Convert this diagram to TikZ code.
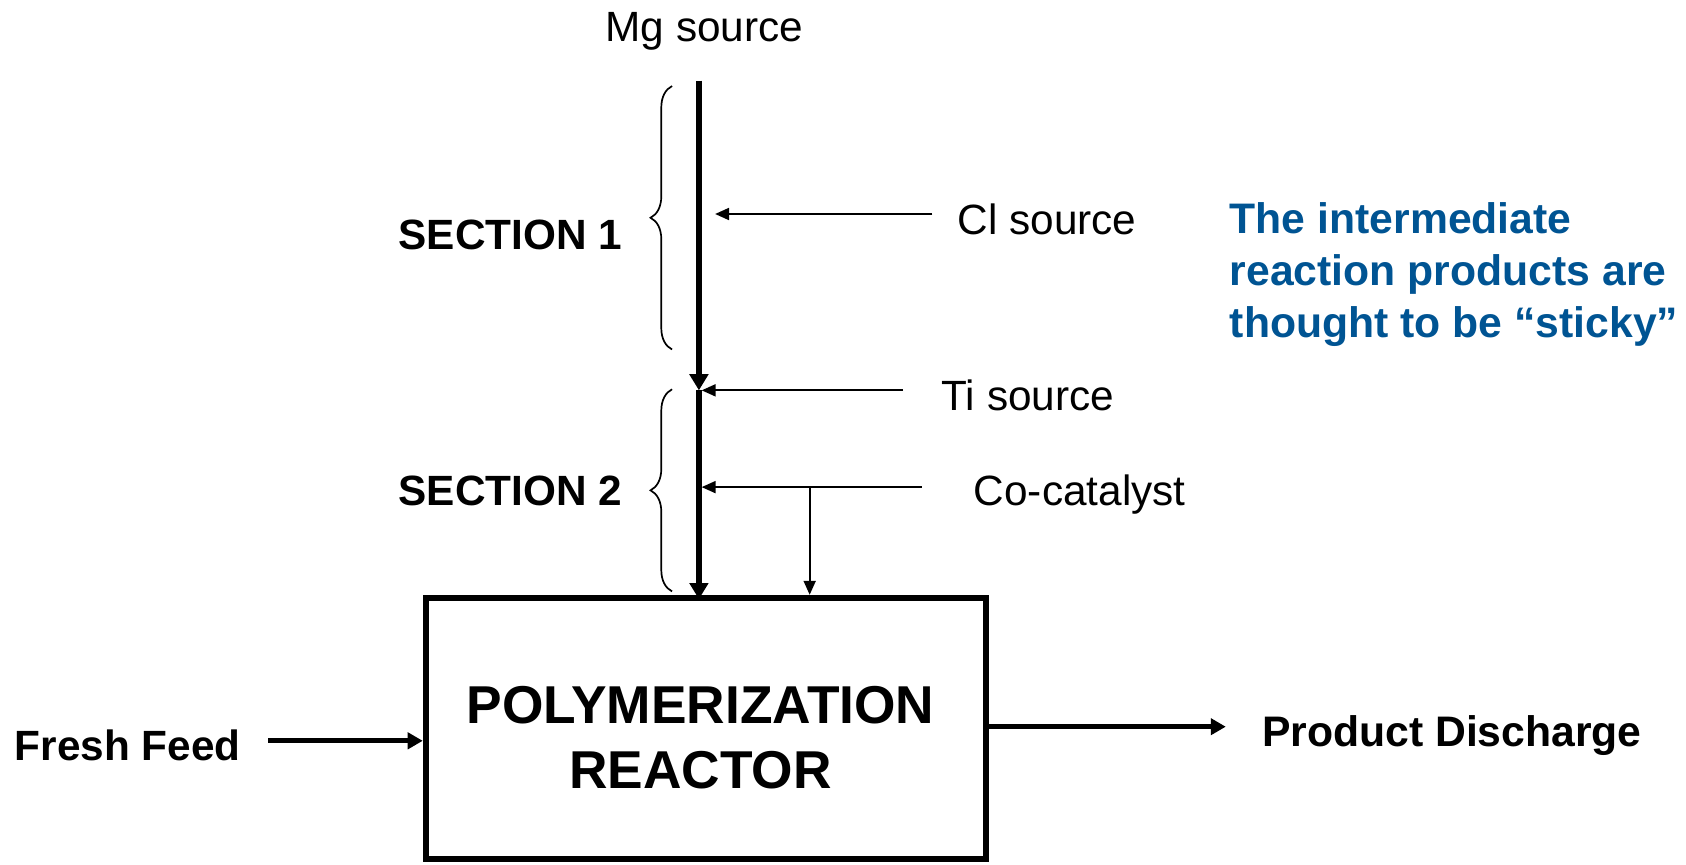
\documentclass[tikz,border=0pt]{standalone}
\usepackage{fontspec}
\setmainfont{Liberation Sans}
\setsansfont{Liberation Sans}
\RequirePackage{xcolor}
\definecolor{stickyblue}{RGB}{0,84,147}
\tikzset{every picture/.style={/utils/exec={\sffamily}}}
\usetikzlibrary{calc}
\usetikzlibrary{positioning}
\usetikzlibrary{arrows.meta,decorations.pathreplacing}
\tikzset{
  feedtext/.style={font=\fontsize{11.2}{13.7}\selectfont, inner sep=0pt},
  sectiontext/.style={font=\fontsize{11.2}{13.7}\selectfont\bfseries, inner sep=0pt},
  reactortext/.style={font=\fontsize{14.1}{17}\selectfont\bfseries, align=center, inner sep=0pt},
  thinfeed/.style={line width=0.6pt, -{Triangle[length=0.13cm,width=0.11cm]}},
  mainfeed/.style={line width=1.45pt, -{Triangle[length=0.15cm,width=0.17cm]}},
  widefeed/.style={line width=1.4pt, -{Triangle[length=0.14cm,width=0.15cm]}},
  sidebrace/.style={decorate, decoration={brace,amplitude=0.2cm}, line width=0.45pt},
}

\begin{document}
\begin{tikzpicture}
  \useasboundingbox (0,0) rectangle (15.68,-8.04);

  \node [draw, line width=1.6pt, minimum width=5.21cm, minimum height=2.43cm] (reactor) at (6.565,-6.775) {};
  \node [reactortext] (reactorname) at ([xshift=-0.05cm,yshift=-0.085cm]reactor.center) {POLYMERIZATION\\REACTOR};

  \node [feedtext, anchor=base] (mg) at (6.55,-0.39) {Mg source};
  \node [feedtext, anchor=base west] (cl) at (8.90,-2.18) {Cl source};
  \node [feedtext, anchor=base west] (ti) at (8.75,-3.82) {Ti source};
  \node [feedtext, anchor=base west] (cocat) at (9.05,-4.70) {Co-catalyst};

  \node [sectiontext, anchor=base west] (sec1) at (3.70,-2.32) {SECTION 1};
  \node [sectiontext, anchor=base west] (sec2) at (3.70,-4.70) {SECTION 2};

  \node [sectiontext, anchor=base west] (fresh) at (0.13,-7.07) {Fresh Feed};
  \node [sectiontext, anchor=base west, font=\fontsize{11.3}{13}\selectfont\bfseries] (product) at (11.73,-6.94) {Product Discharge};

  \node [sectiontext, text=stickyblue, align=left, anchor=north west,
  font=\fontsize{11.3}{13.66}\selectfont\bfseries] (sticky) at (11.43,-1.88) {
    The intermediate\\
    reaction products are\\
    thought to be \textquotedblleft sticky\textquotedblright
  };

  % main line
  \coordinate (mgtop) at (6.50,-0.75);
  \coordinate (tijoin) at (6.50,-3.63);
  \coordinate (cojoin) at (6.50,-4.53);
  \coordinate (cobranch) at (7.53,-4.53);
  \draw [mainfeed] (mgtop) -- (tijoin);
  \draw [mainfeed] (tijoin) -- ([yshift=-0.04cm]tijoin |- reactor.north);

  % side feeds
  \coordinate (clstart) at (8.67,-1.99);
  \coordinate (tistart) at (8.40,-3.63);
  \coordinate (costart) at (8.57,-4.53);
  \draw [thinfeed, shorten >=0.15cm] (clstart) -- (clstart -| mgtop);
  \draw [thinfeed, shorten >=0.025cm] (tistart) -- (tijoin);
  \draw [thinfeed, shorten >=0.025cm] (costart) -- (cojoin);
  \draw [thinfeed] (cobranch) -- (cobranch |- reactor.north);

  \draw [widefeed, shorten <=0.25cm] ([yshift=0.04cm]fresh.east) -- ([yshift=0.04cm]fresh.east -| reactor.west);
  \draw [widefeed, shorten >=0.33cm] ([yshift=0.08cm]reactor.east |- product.west) -- ([yshift=0.08cm]product.west);

  % sections
  \draw [sidebrace] (6.25,-3.25) -- (6.25,-0.80);
  \draw [sidebrace] (6.25,-5.50) -- (6.25,-3.62);

\end{tikzpicture}
\end{document}
